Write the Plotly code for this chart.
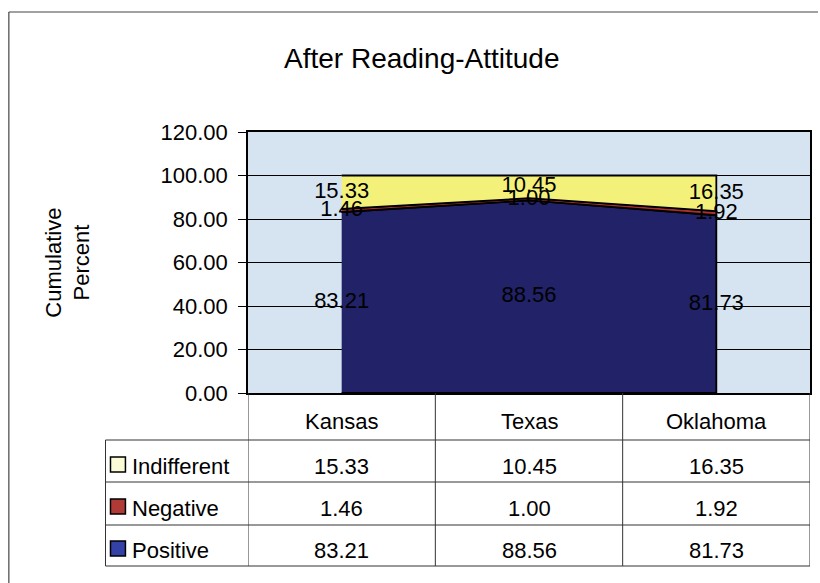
import plotly.graph_objects as go

# ---------------- data ----------------
states = ["Kansas", "Texas", "Oklahoma"]
positive = [83.21, 88.56, 81.73]
negative = [1.46, 1.00, 1.92]
indifferent = [15.33, 10.45, 16.35]
y_ticks = [0, 20, 40, 60, 80, 100, 120]
title_text = "After Reading-Attitude"
y_title = "Cumulative<br>Percent"

# ---------------- geometry helpers ----------------
W, H = 820, 583
L, R, T, B = 248, 8, 132, 190
PW = W - L - R
PH = H - T - B


def px_x(px):
    return (px - L) / PW


def px_y(py):
    return (H - B - py) / PH


FONT = "Arial, Liberation Sans, sans-serif"
fill_colors = {"Positive": "#212268", "Negative": "#A8302E", "Indifferent": "#F3F17A"}
key_colors = {"Positive": "#3442A8", "Negative": "#B03A36", "Indifferent": "#FBFBD6"}

xs = list(range(len(states)))
stack = [("Positive", positive), ("Negative", negative), ("Indifferent", indifferent)]

fig = go.Figure()
base = [0.0] * len(states)
label_traces = []
for name, vals in stack:
    top = [b + v for b, v in zip(base, vals)]
    fig.add_trace(go.Scatter(
        x=xs + xs[::-1], y=top + base[::-1],
        fill="toself", fillcolor=fill_colors[name],
        line=dict(color="black", width=1.8), mode="lines",
        name=name, hoverinfo="skip", showlegend=False,
    ))
    mids = [b + v / 2 for b, v in zip(base, vals)]
    label_traces.append(go.Scatter(
        x=xs, y=mids, mode="text", text=[f"{v:.2f}" for v in vals],
        textposition="middle center",
        textfont=dict(family=FONT, size=22, color="black"),
        showlegend=False, hoverinfo="skip", cliponaxis=False,
    ))
    base = top
for tr in label_traces:
    fig.add_trace(tr)

shapes = []
annotations = []

# outer chart border (left and top)
shapes.append(dict(type="line", xref="paper", yref="paper",
                   x0=px_x(8), x1=px_x(8), y0=px_y(12), y1=px_y(583),
                   line=dict(color="#444444", width=1.2)))
shapes.append(dict(type="line", xref="paper", yref="paper",
                   x0=px_x(8), x1=px_x(820), y0=px_y(12), y1=px_y(12),
                   line=dict(color="#444444", width=1.2)))

# data table grid
row_lines = [440, 482, 525, 566]
for ry in row_lines:
    shapes.append(dict(type="line", xref="paper", yref="paper",
                       x0=px_x(105), x1=1, y0=px_y(ry), y1=px_y(ry),
                       line=dict(color="#333333", width=1)))
shapes.append(dict(type="line", xref="paper", yref="paper",
                   x0=px_x(105), x1=px_x(105), y0=px_y(440), y1=px_y(566),
                   line=dict(color="#333333", width=1)))
for i in range(len(states) + 1):
    shapes.append(dict(type="line", xref="x", yref="paper",
                       x0=i - 0.5, x1=i - 0.5, y0=0, y1=px_y(566),
                       line=dict(color="#333333", width=1)))

# header row
for i, s in enumerate(states):
    annotations.append(dict(x=i, xref="x", y=px_y(421), yref="paper", text=s,
                            showarrow=False, xanchor="center", yanchor="middle",
                            font=dict(family=FONT, size=22, color="black")))

# body rows
rows = [("Indifferent", indifferent, 466), ("Negative", negative, 508), ("Positive", positive, 550)]
for name, vals, cy in rows:
    shapes.append(dict(type="rect", xref="paper", yref="paper",
                       x0=px_x(110), x1=px_x(125), y0=px_y(cy + 6), y1=px_y(cy - 9),
                       fillcolor=key_colors[name], line=dict(color="black", width=1.5)))
    annotations.append(dict(x=px_x(130), xref="paper", y=px_y(cy), yref="paper", text=name,
                            showarrow=False, xanchor="left", yanchor="middle",
                            font=dict(family=FONT, size=22, color="black")))
    for i, v in enumerate(vals):
        annotations.append(dict(x=i, xref="x", y=px_y(cy), yref="paper", text=f"{v:.2f}",
                                showarrow=False, xanchor="center", yanchor="middle",
                                font=dict(family=FONT, size=22, color="black")))

# title
annotations.append(dict(x=px_x(423), xref="paper", y=px_y(58), yref="paper", text=title_text,
                        showarrow=False, xanchor="center", yanchor="middle",
                        font=dict(family=FONT, size=28, color="black")))
# y-axis title
annotations.append(dict(x=px_x(67), xref="paper", y=px_y(263), yref="paper", text=y_title,
                        showarrow=False, xanchor="center", yanchor="middle", textangle=-90,
                        font=dict(family=FONT, size=22, color="black")))

fig.update_layout(
    width=W, height=H,
    margin=dict(l=L, r=R, t=T, b=B, pad=0),
    paper_bgcolor="white", plot_bgcolor="#D6E4F2",
    showlegend=False,
    shapes=shapes, annotations=annotations,
    font=dict(family=FONT, size=22, color="black"),
)
fig.update_xaxes(range=[-0.5, len(states) - 0.5], showticklabels=False, ticks="",
                 showgrid=False, zeroline=False, showline=True, mirror=True,
                 linecolor="black", linewidth=1.5, fixedrange=True)
fig.update_yaxes(range=[0, 120], tickvals=y_ticks, tickformat=".2f",
                 ticks="outside", ticklen=8, tickcolor="black", tickwidth=1,
                 ticklabelstandoff=6,
                 showgrid=True, gridcolor="black", gridwidth=1, zeroline=False,
                 showline=True, mirror=True, linecolor="black", linewidth=1.5,
                 tickfont=dict(family=FONT, size=22, color="black"), fixedrange=True)

fig.write_html("out.html", config={"displayModeBar": False},
               post_script="document.body.style.margin='0';document.body.style.overflow='hidden';")
